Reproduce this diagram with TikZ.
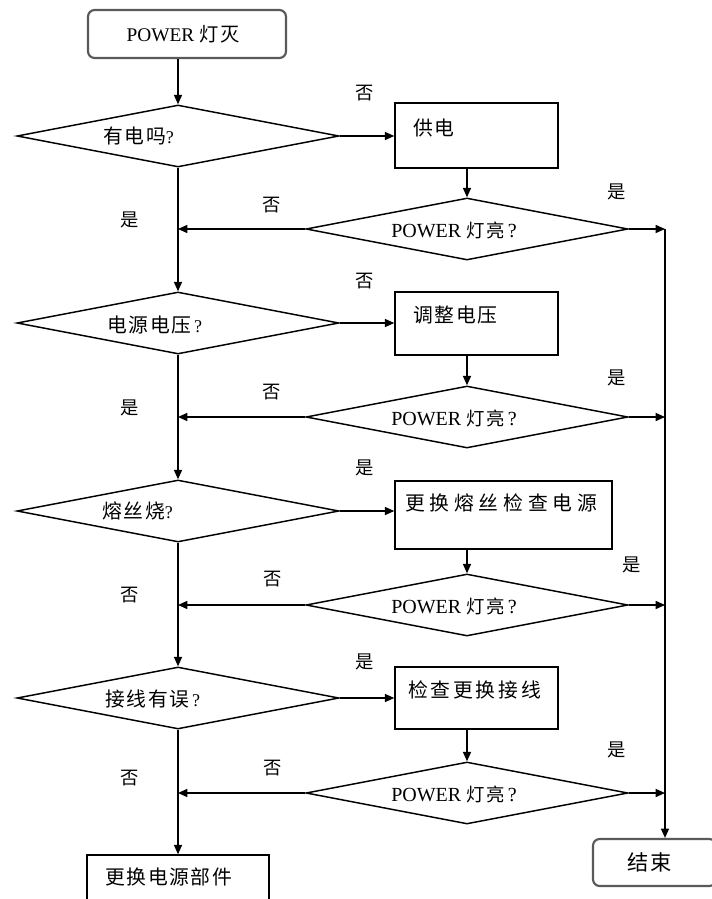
\documentclass[tikz,border=0pt]{standalone}
\usepackage{fontspec}
\setmainfont{Liberation Serif}
\newfontfamily\cjk[Scale=1.1,LetterSpace=8]{Noto Sans CJK SC}
\usetikzlibrary{shapes.geometric,arrows.meta}
\newcommand\zhtxt[1]{{\cjk #1}}
\tikzset{
  dia/.style={draw, diamond, minimum width=241.5pt, minimum height=46.5pt, inner sep=0pt, line width=1.1pt},
  procbox/.style={draw, rectangle, line width=1.1pt, inner sep=0pt},
  termbox/.style={draw=black!65, rectangle, rounded corners=5pt, line width=1.6pt, inner sep=0pt},
  txt/.style={inner sep=0pt, anchor=west, font=\fontsize{13.5pt}{15pt}\selectfont},
  dtxt/.style={inner sep=0pt, anchor=west, font=\fontsize{15pt}{17pt}\selectfont},
  ctxt/.style={inner sep=0pt, font=\fontsize{14.5pt}{16pt}\selectfont},
  lab/.style={inner sep=0pt, font=\fontsize{12.5pt}{14pt}\selectfont\cjk},
  arr/.style={-{Triangle[length=7pt,width=6pt]}, line width=1.1pt},
  line/.style={line width=1.1pt}
}
\begin{document}
\begin{tikzpicture}[x=0.75pt,y=-0.75pt]
\useasboundingbox (0,0) rectangle (712,899);
\clip (0,0) rectangle (712,899);
\fill[white] (0,0) rectangle (712,899);

% start / terminal boxes
\node[termbox, minimum width=148.5pt, minimum height=36pt] (start) at (187,34) {};
\node[ctxt] (tstart) at (183,34) {POWER {\cjk\addfontfeature{Scale=1.0}灯灭}};

% left decision diamonds
\node[dia] (d1) at (178,136) {};
\node[dia] (d3) at (178,323) {};
\node[dia] (d5) at (178,511) {};
\node[dia] (d7) at (178,698) {};
\node[txt] (t1) at (103,136) {\zhtxt{有电吗}?};
\node[txt] (t3) at (107,325) {\zhtxt{电源电压}\,?};
\node[txt] (t5) at (102,511) {\zhtxt{熔丝烧}?};
\node[txt] (t7) at (105,699) {\zhtxt{接线有误}\,?};

% right decision diamonds
\node[dia] (d2) at (467,229) {};
\node[dia] (d4) at (467,417) {};
\node[dia] (d6) at (467,605) {};
\node[dia] (d8) at (467,793) {};
\node[dtxt] (t2) at (391,230) {POWER {\cjk\addfontfeature{Scale=0.92}灯亮}\,?};
\node[dtxt] (t4) at (391,418) {POWER {\cjk\addfontfeature{Scale=0.92}灯亮}\,?};
\node[dtxt] (t6) at (391,606) {POWER {\cjk\addfontfeature{Scale=0.92}灯亮}\,?};
\node[dtxt] (t8) at (391,794) {POWER {\cjk\addfontfeature{Scale=0.92}灯亮}\,?};

% process boxes
\node[procbox, minimum width=122.25pt, minimum height=48.75pt] (b1) at (476.5,135.5) {};
\node[procbox, minimum width=122.25pt, minimum height=47.25pt] (b2) at (476.5,323.5) {};
\node[procbox, minimum width=162.75pt, minimum height=51pt] (b3) at (503.5,515) {};
\node[procbox, minimum width=122.25pt, minimum height=46.5pt] (b4) at (476.5,698) {};
\node[txt] (tb1) at (413,128) {\zhtxt{供电}};
\node[txt] (tb2) at (413,315) {\zhtxt{调整电压}};
\node[txt] (tb3) at (405,503) {{\cjk\addfontfeature{LetterSpace=24}更换熔丝检查电源}};
\node[txt] (tb4) at (408,690) {{\cjk\addfontfeature{LetterSpace=14}检查更换接线}};

% final boxes
\node[procbox, minimum width=136.5pt, minimum height=52.5pt] (fin) at (178,890) {};
\node[txt] (tfin) at (105,877) {\zhtxt{更换电源部件}};
\node[termbox, minimum width=92.25pt, minimum height=35.25pt] (endb) at (654.5,862.5) {};
\node[ctxt] (tend) at (650,862) {\zhtxt{结束}};

% right collector line
\coordinate (rt) at (665,229);

% connectors: main column
\draw[arr] (start.south -| d1.north) -- (d1.north);
\draw[arr] (d1.south) -- (d3.north);
\draw[arr] (d3.south) -- (d5.north);
\draw[arr] (d5.south) -- (d7.north);
\draw[arr] (d7.south) -- (fin.north);

% to process boxes
\draw[arr] (d1.east) -- (b1.west |- d1.east);
\draw[arr] (d3.east) -- (b2.west |- d3.east);
\draw[arr] (d5.east) -- (b3.west |- d5.east);
\draw[arr] (d7.east) -- (b4.west |- d7.east);

% boxes down to check diamonds
\draw[arr] (d2.north |- b1.south) -- (d2.north);
\draw[arr] (d4.north |- b2.south) -- (d4.north);
\draw[arr] (d6.north |- b3.south) -- (d6.north);
\draw[arr] (d8.north |- b4.south) -- (d8.north);

% back to main column
\draw[arr] (d2.west) -- (d2.west -| d1.south);
\draw[arr] (d4.west) -- (d4.west -| d3.south);
\draw[arr] (d6.west) -- (d6.west -| d5.south);
\draw[arr] (d8.west) -- (d8.west -| d7.south);

% to right collector
\draw[arr] (d2.east) -- (rt);
\draw[arr] (d4.east) -- (d4.east -| rt);
\draw[arr] (d6.east) -- (d6.east -| rt);
\draw[arr] (d8.east) -- (d8.east -| rt);
\draw[arr] (rt) -- (rt |- endb.north);

% labels
\node[lab] (l1) at (365,93) {否};
\node[lab] (l2) at (617,192) {是};
\node[lab] (l3) at (272,205) {否};
\node[lab] (l4) at (130,220) {是};

\node[lab] (l5) at (365,281) {否};
\node[lab] (l6) at (617,378) {是};
\node[lab] (l7) at (272,392) {否};
\node[lab] (l8) at (130,408) {是};

\node[lab] (l9) at (365,468) {是};
\node[lab] (l10) at (632,565) {是};
\node[lab] (l11) at (273,579) {否};
\node[lab] (l12) at (130,595) {否};

\node[lab] (l13) at (365,662) {是};
\node[lab] (l14) at (617,750) {是};
\node[lab] (l15) at (273,768) {否};
\node[lab] (l16) at (130,778) {否};
\end{tikzpicture}
\end{document}
